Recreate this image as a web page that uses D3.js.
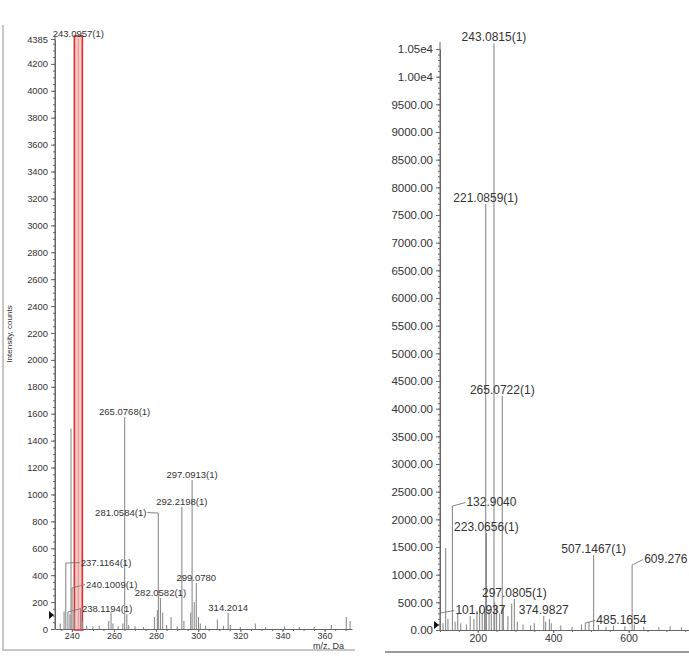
<!DOCTYPE html>
<html lang="en">
<head>
<meta charset="UTF-8" />
<title>MS/MS spectra</title>
<script src="https://d3js.org/d3.v7.min.js"></script>
<style>
  body { margin: 0; background: #fff; }
  svg { display: block; font-family: "Liberation Sans", Arial, sans-serif; }
  .tick text { fill: #333; }
  .tick line, .domain { stroke: #666; }
</style>
</head>
<body>
<svg width="689" height="657"></svg>
<script>
// ---- left spectrum (m/z 232-373) ----
const leftMz = [234.5, 236.3, 237.1164, 238.1194, 239.1, 239.6, 240.1009, 241.1, 243.0957, 244.1, 245.1, 247, 250, 253,
  257.5, 258.6, 259.5, 262, 264.2, 265.0768, 266.1, 267, 270, 274, 279.2, 280.6, 281.0584, 282.0582, 283.1, 285,
  287.1, 290, 292.2198, 293.2, 296.4, 297.0913, 298.1, 299.078, 300.1, 301, 303.5, 309.1, 312, 314.2014, 315.2,
  320, 327.1, 332, 341, 348, 355, 363.2, 370.3, 372.1];
const leftIntensity = [40, 130, 490, 126, 110, 1490, 305, 120, 4385, 150, 60, 25, 20, 25,
  60, 125, 40, 20, 40, 1576, 110, 30, 20, 15, 90, 140, 862, 230, 120, 30,
  90, 20, 907, 60, 120, 1108, 200, 342, 90, 40, 25, 70, 25, 119, 30,
  15, 40, 15, 20, 15, 15, 30, 90, 60];
const leftYTicks = [0, 200, 400, 600, 800, 1000, 1200, 1400, 1600, 1800, 2000, 2200, 2400, 2600, 2800,
  3000, 3200, 3400, 3600, 3800, 4000, 4200, 4385];
const leftXTicks = [240, 260, 280, 300, 320, 340, 360];
const leftLabels = ["243.0957(1)", "265.0768(1)", "297.0913(1)", "292.2198(1)", "281.0584(1)", "237.1164(1)",
  "240.1009(1)", "282.0582(1)", "299.0780", "238.1194(1)", "314.2014"];
const leftLabelMz = [243.0957, 265.0768, 297.0913, 292.2198, 281.0584, 237.1164, 240.1009, 282.0582, 299.078, 238.1194, 314.2014];
const highlightMz = 243.0957;

// ---- right spectrum (m/z 100-760) ----
const rightMz = [101.0937, 108, 115, 121, 132.904, 140, 147, 155, 170, 180, 190, 198, 205, 212, 218, 221.0859,
  223.0656, 230, 236, 243.0815, 245, 250, 258, 265.0722, 268, 280, 290, 297.0805, 305, 320, 340, 350, 374.9827,
  380, 390, 395, 420, 450, 475, 485.1654, 495, 507.1467, 520, 540, 560, 590, 609.276, 615, 640, 680, 710, 740];
const rightIntensity = [307, 120, 1480, 200, 2240, 150, 300, 120, 100, 250, 200, 350, 420, 300, 380, 7700,
  1753, 380, 300, 10600, 500, 450, 300, 4229, 400, 250, 480, 560, 150, 100, 80, 120, 253,
  150, 200, 120, 80, 60, 100, 127, 150, 1355, 90, 60, 80, 70, 1175, 100, 60, 50, 70, 50];
const rightYTicks = [0, 500, 1000, 1500, 2000, 2500, 3000, 3500, 4000, 4500, 5000, 5500, 6000, 6500, 7000,
  7500, 8000, 8500, 9000, 9500, 10000, 10500];
const rightXTicks = [200, 400, 600];
const rightLabels = ["243.0815(1)", "221.0859(1)", "265.0722(1)", "132.9040", "223.0656(1)", "507.1467(1)",
  "609.276", "297.0805(1)", "101.0937", "374.9827", "485.1654"];
const rightLabelMz = [243.0815, 221.0859, 265.0722, 132.904, 223.0656, 507.1467, 609.276, 297.0805, 101.0937, 374.9827, 485.1654];

const svg = d3.select("svg");

// label offsets for labels that sit beside their peak with a leader line (px)
const leaders = {
  "281.0584(1)": { dx: -12, dy: 3 },
  "237.1164(1)": { dx: 15, dy: 3 },
  "240.1009(1)": { dx: 14, dy: 0 },
  "238.1194(1)": { dx: 14, dy: 0 },
  "132.9040": { dx: 14, dy: 0 },
  "101.0937": { dx: 15, dy: 1 },
  "485.1654": { dx: 11, dy: 1 },
  "609.276": { dx: 12, dy: -2 }
};

function drawSpectrum(o) {
  const g = svg.append("g");
  const x = d3.scaleLinear().domain(o.xDomain).range(o.xRange);
  const y = d3.scaleLinear().domain(o.yDomain).range(o.yRange);

  // minor ticks
  g.append("g").attr("transform", `translate(${o.xRange[0]},0)`)
    .call(d3.axisLeft(y).tickValues(d3.range(0, o.yDomain[1], o.yMinor)).tickSize(2).tickFormat(""))
    .call(s => s.select(".domain").remove());
  g.append("g").attr("transform", `translate(0,${o.yRange[0]})`)
    .call(d3.axisBottom(x).tickValues(d3.range(Math.ceil(o.xDomain[0] / o.xMinor) * o.xMinor, o.xDomain[1], o.xMinor)).tickSize(2).tickFormat(""))
    .call(s => s.select(".domain").remove());

  // major axes
  g.append("g").attr("transform", `translate(${o.xRange[0]},0)`)
    .call(d3.axisLeft(y).tickValues(o.yTicks).tickSize(4).tickPadding(3).tickSizeOuter(0).tickFormat(o.yFormat))
    .call(s => s.selectAll("text").style("font-size", o.tickFont));
  g.append("g").attr("transform", `translate(0,${o.yRange[0]})`)
    .call(d3.axisBottom(x).tickValues(o.xTicks).tickSize(3).tickPadding(o.xPad).tickSizeOuter(0))
    .call(s => s.selectAll("text").style("font-size", o.xTickFont));

  // highlight box
  if (o.highlight) {
    const hx = x(o.highlight);
    g.append("rect").attr("x", hx - 4).attr("y", y(o.yDomain[1]) - 3)
      .attr("width", 8).attr("height", o.yRange[0] - y(o.yDomain[1]) + 4)
      .attr("fill", "#f6c9c9").attr("stroke", "#d8312f").attr("stroke-width", 1.6);
  }

  // peaks
  g.append("g").selectAll("line").data(o.mz).join("line")
    .attr("x1", d => x(d)).attr("x2", d => x(d))
    .attr("y1", o.yRange[0]).attr("y2", (d, i) => y(o.intensity[i]))
    .attr("stroke", d => d === o.highlight ? "#e39a9a" : "#8c8c8c")
    .attr("stroke-width", 1.1);

  // peak labels
  o.labels.forEach((t, i) => {
    const mz = o.labelMz[i];
    const px = x(mz);
    const py = y(o.intensity[o.mz.indexOf(mz)]);
    const lead = leaders[t];
    const txt = g.append("text").text(t).attr("fill", "#333").style("font-size", o.labelFont);
    if (!lead) {
      txt.attr("x", px).attr("y", py - 2).attr("text-anchor", "middle");
    } else {
      const tx = px + lead.dx, ty = py + lead.dy;
      txt.attr("x", tx).attr("y", ty).attr("text-anchor", lead.dx < 0 ? "end" : "start");
      g.append("polyline")
        .attr("points", `${px},${py} ${tx + (lead.dx < 0 ? 1 : -1)},${ty - 3.5}`)
        .attr("fill", "none").attr("stroke", "#777").attr("stroke-width", 0.9);
    }
  });

  // zero marker
  g.append("path")
    .attr("d", `M${o.xRange[0] - 6},${o.marker - 4}L${o.xRange[0] - 1},${o.marker}L${o.xRange[0] - 6},${o.marker + 4}Z`)
    .attr("fill", "#111");
  return { g, x, y };
}

const left = drawSpectrum({
  xDomain: [232, 373], xRange: [55, 352],
  yDomain: [0, 4385], yRange: [629, 39],
  yTicks: leftYTicks, xTicks: leftXTicks, yMinor: 50, xMinor: 5, xPad: 1,
  yFormat: d => d, tickFont: "9.4px", xTickFont: "9px", labelFont: "9.5px",
  mz: leftMz, intensity: leftIntensity, labels: leftLabels, labelMz: leftLabelMz,
  highlight: highlightMz, marker: 615
});

const right = drawSpectrum({
  xDomain: [100, 760], xRange: [440, 689],
  yDomain: [0, 10500], yRange: [630, 49],
  yTicks: rightYTicks, xTicks: rightXTicks, yMinor: 100, xMinor: 50, xPad: 2,
  yFormat: d => d >= 10000 ? (d / 10000).toFixed(2) + "e4" : d.toFixed(2),
  tickFont: "11.5px", xTickFont: "10.5px", labelFont: "12px",
  mz: rightMz, intensity: rightIntensity, labels: rightLabels, labelMz: rightLabelMz,
  highlight: null, marker: 625
});

// axis lines extend a little above the top tick
svg.append("line").attr("x1", 55).attr("x2", 55).attr("y1", 35).attr("y2", 629).attr("stroke", "#666");
svg.append("line").attr("x1", 440).attr("x2", 440).attr("y1", 42).attr("y2", 630).attr("stroke", "#666");

// axis titles
svg.append("text").attr("transform", "translate(12,334) rotate(-90)")
  .attr("text-anchor", "middle").attr("fill", "#333").style("font-size", "8px").text("Intensity, counts");
svg.append("text").attr("x", 313).attr("y", 648.5).attr("fill", "#333").style("font-size", "9px").text("m/z, Da");

// panel frames
svg.append("path").attr("d", "M3,25V650H355").attr("fill", "none").attr("stroke", "#b5b5b5").attr("stroke-width", 1.5);
svg.append("line").attr("x1", 385).attr("x2", 689).attr("y1", 652).attr("y2", 652).attr("stroke", "#777").attr("stroke-width", 1.5);
</script>
</body>
</html>
